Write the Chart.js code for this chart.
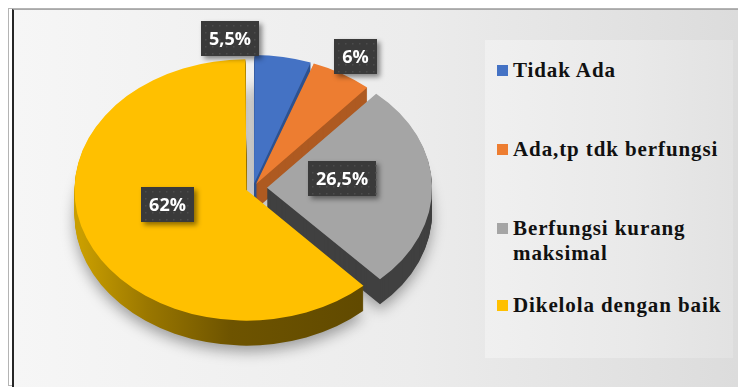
<!DOCTYPE html>
<html>
<head>
<meta charset="utf-8">
<script src="https://cdn.jsdelivr.net/npm/chart.js@4.4.1/dist/chart.umd.min.js"></script>
<style>
  html, body { margin:0; padding:0; width:738px; height:389px; overflow:hidden; background:#fff; }
  .frame { position:absolute; left:8px; top:8px; width:728px; height:376px; border:1px solid #b4b4b4; }
  .frame2 { position:absolute; left:3px; top:3px; right:0px; bottom:0px; border:1px solid #c4c4c4; border-right:3px solid #bdbdbd; border-bottom:3px solid #c4c4c4; }
  .plot { position:absolute; left:12px; top:9px; right:0px; bottom:2px; border-left:2px solid #262626; border-top:1px solid #a8a8a8;
          background:linear-gradient(90deg,#f6f6f6 0%,#ececec 55%,#dcdcdc 100%); }
  .legendBox { position:absolute; left:485px; top:40px; width:248px; height:318px;
               background:linear-gradient(90deg,#f0f0f0 0%,#e9e9e9 60%,#e2e2e2 100%); }
  #chart { position:absolute; left:0; top:0; }
  .item { position:absolute; left:12px; font:bold 21px "Liberation Serif", serif; letter-spacing:0.9px; color:#111; line-height:25px; }
  .item i { position:absolute; left:0; top:7px; width:11px; height:11px; }
  .item span { display:block; margin-left:16px; }
</style>
</head>
<body>
<div class="frame"><div class="frame2"></div></div>
<div class="plot"></div>
<div class="legendBox" id="legend"></div>
<canvas id="chart" width="738" height="389"></canvas>
<script>
const labels = ['Tidak Ada', 'Ada,tp tdk berfungsi', 'Berfungsi kurang maksimal', 'Dikelola dengan baik'];
const values = [5.5, 6, 26.5, 62];
const valueLabels = ['5,5%', '6%', '26,5%', '62%'];
const colors = ['#4472C4', '#ED7D31', '#A5A5A5', '#FFC000'];
const sideColors = ['#2f528f', '#ae5a21', '#404040', 'yellowSide'];

const TILT = 0.76;   // vertical squash of the pie
const DEPTH = 25;    // thickness of the pie in px

// legend (html) --------------------------------------------------------
const legendTops = [18, 97, 176, 253];
const legendLines = [['Tidak Ada'], ['Ada,tp tdk berfungsi'], ['Berfungsi kurang', 'maksimal'], ['Dikelola dengan baik']];
const legend = document.getElementById('legend');
labels.forEach((l, i) => {
  const d = document.createElement('div');
  d.className = 'item';
  d.style.top = legendTops[i] + 'px';
  d.innerHTML = `<i style="background:${colors[i]}"></i><span>${legendLines[i].join('<br>')}</span>`;
  legend.appendChild(d);
});

function squash(ctx, cx, cy){
  ctx.translate(cx, cy);
  ctx.scale(1, TILT);
  ctx.translate(-cx, -cy);
}

const pie3d = {
  id: 'pie3d',
  beforeDatasetsDraw(chart){
    const ctx = chart.ctx;
    const arcs = chart.getDatasetMeta(0).data;
    const cx = arcs[0].x, cy = arcs[0].y, R = arcs[0].outerRadius;
    const yg = ctx.createLinearGradient(cx - R, 0, cx + R, 0);
    yg.addColorStop(0, '#c99e00');
    yg.addColorStop(0.2, '#9a7700');
    yg.addColorStop(0.45, '#6e5400');
    yg.addColorStop(1, '#5c4600');
    for(let d = DEPTH; d >= 1; d--){
      ctx.save();
      ctx.translate(0, d);
      squash(ctx, cx, cy);
      if(d === DEPTH){
        ctx.shadowColor = 'rgba(0,0,0,0.35)';
        ctx.shadowBlur = 14;
        ctx.shadowOffsetY = 6;
      }
      arcs.forEach((arc, i) => {
        const saved = arc.options;
        const side = sideColors[i] === 'yellowSide' ? yg : sideColors[i];
        arc.options = Object.assign({}, saved, {backgroundColor: side, borderWidth: 0});
        arc.draw(ctx);
        arc.options = saved;
      });
      ctx.restore();
    }
    ctx.save();
    squash(ctx, cx, cy);
  },
  afterDatasetsDraw(chart){
    chart.ctx.restore();
  }
};

// data label boxes placed from each arc's geometry
const labelPlace = [
  {r:1.19, dx:-57, dy:-2},
  {r:1.22, dx:0, dy:0},
  {r:0.55, dx:-2, dy:-8},
  {r:0.53, dx:-4, dy:-8}
];
const boxLabels = {
  id: 'boxLabels',
  afterDraw(chart){
    const ctx = chart.ctx;
    const arcs = chart.getDatasetMeta(0).data;
    ctx.save();
    ctx.font = 'bold 18px "Open Sans", sans-serif';
    ctx.textAlign = 'center';
    ctx.textBaseline = 'middle';
    arcs.forEach((arc, i) => {
      const p = labelPlace[i];
      const a = (arc.startAngle + arc.endAngle) / 2;
      const x = arc.x + Math.cos(a) * arc.outerRadius * p.r + p.dx;
      const y = arc.y + Math.sin(a) * arc.outerRadius * p.r * TILT + p.dy;
      const w = Math.round(ctx.measureText(valueLabels[i]).width + 16), h = 35;
      const bx = Math.round(x - w/2), by = Math.round(y - h/2);
      ctx.save();
      ctx.shadowColor = 'rgba(0,0,0,0.45)';
      ctx.shadowBlur = 5;
      ctx.shadowOffsetX = 3;
      ctx.shadowOffsetY = 3;
      ctx.fillStyle = '#3a3a3a';
      ctx.fillRect(bx, by, w, h);
      ctx.restore();
      ctx.fillStyle = '#4c4c4c';
      for(let yy = by + 4; yy < by + h; yy += 7)
        for(let xx = bx + 4; xx < bx + w; xx += 7) ctx.fillRect(xx, yy, 1.5, 1.5);
      ctx.fillStyle = '#ffffff';
      ctx.fillText(valueLabels[i], bx + w/2, by + h/2 + 1);
    });
    ctx.restore();
  }
};

new Chart(document.getElementById('chart'), {
  type: 'pie',
  data: {
    labels,
    datasets: [{
      data: values,
      backgroundColor: colors,
      borderWidth: 0,
      offset: [24, 24, 56, 28],
      clip: false
    }]
  },
  options: {
    responsive: false,
    animation: false,
    events: [],
    radius: 165,
    layout: { padding: {left: 60, right: 292, top: 12, bottom: 25} },
    plugins: { legend: {display: false}, tooltip: {enabled: false} }
  },
  plugins: [pie3d, boxLabels]
});
</script>
</body>
</html>
